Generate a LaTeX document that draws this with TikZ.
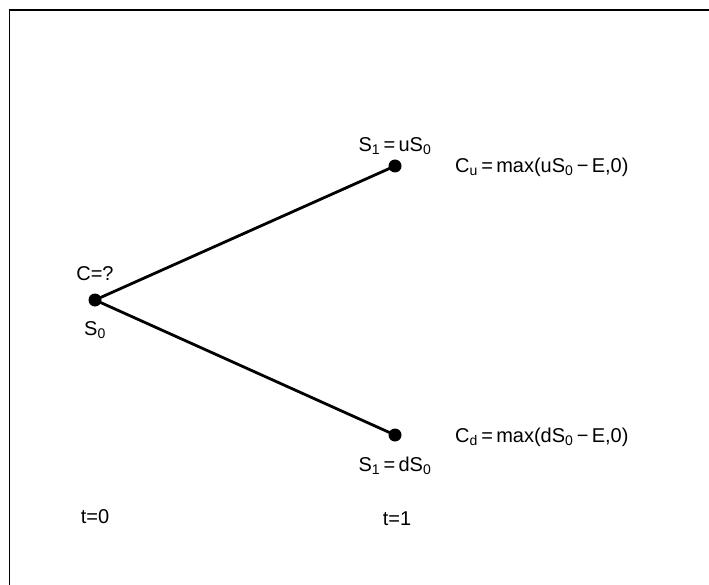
\documentclass[tikz,border=0pt]{standalone}
\usepackage{fontspec}
\setmainfont{Liberation Sans}
\begin{document}
\begin{tikzpicture}[x=1pt,y=-1pt,
  lbl/.style={inner sep=0pt,font=\fontsize{20}{22}\selectfont},
  branch/.style={line width=2.8pt},
  dot/.style={circle,fill=black,inner sep=0pt,minimum size=13pt}]
\useasboundingbox (0,0) rectangle (709,585);
\draw[line width=1.4pt] (9.5,585) -- (9.5,10) -- (709,10);
\node[dot] (r) at (95,300) {};
\node[dot] (u) at (395,166) {};
\node[dot] (d) at (395,435) {};
\draw[branch] (r.center) -- (u.center);
\draw[branch] (r.center) -- (d.center);
\node[lbl] (cq) at (95,274) {C=?};
\node[lbl] (s0) at (95,330) {S\textsubscript{0}};
\node[lbl] (s1u) at (395,146) {S\textsubscript{1}\,=\,uS\textsubscript{0}};
\node[lbl,anchor=west] (cu) at (455,167) {C\textsubscript{u}\,=\,max(uS\textsubscript{0}\,−\,E,0)};
\node[lbl,anchor=west] (cd) at (455,437) {C\textsubscript{d}\,=\,max(dS\textsubscript{0}\,−\,E,0)};
\node[lbl] (s1d) at (395,466) {S\textsubscript{1}\,=\,dS\textsubscript{0}};
\node[lbl] (t0) at (95,517) {t=0};
\node[lbl] (t1) at (397,519) {t=1};
\end{tikzpicture}
\end{document}
